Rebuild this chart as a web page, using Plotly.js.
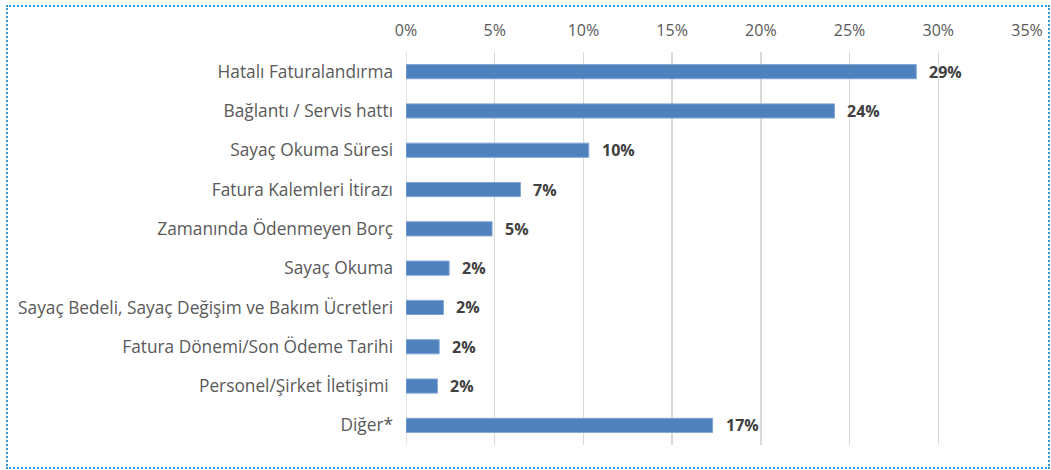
<!DOCTYPE html>
<html>
<head>
<meta charset="utf-8">
<script src="https://cdn.plot.ly/plotly-3.0.1.min.js"></script>
<style>
  html, body { margin: 0; padding: 0; background: #fff; }
  #wrap { position: relative; width: 1051px; height: 470px; }
  #frame { position: absolute; left: 6px; top: 5px; width: 1040px; height: 460px;
           border: 2px dotted #2E9BD6; }
  #chart { position: absolute; left: 0; top: 0; width: 1051px; height: 470px; }
</style>
</head>
<body>
<div id="wrap">
  <div id="frame"></div>
  <div id="chart"></div>
</div>
<script>
const categories = [
  "Hatalı Faturalandırma",
  "Bağlantı / Servis hattı",
  "Sayaç Okuma Süresi",
  "Fatura Kalemleri İtirazı",
  "Zamanında Ödenmeyen Borç",
  "Sayaç Okuma",
  "Sayaç Bedeli, Sayaç Değişim ve Bakım Ücretleri",
  "Fatura Dönemi/Son Ödeme Tarihi",
  "Personel/Şirket İletişimi ",
  "Diğer*"
];
const values = [0.2876, 0.2415, 0.103, 0.0645, 0.0485, 0.0243, 0.0211, 0.0187, 0.0177, 0.1728];
const valueLabels = ["29%", "24%", "10%", "7%", "5%", "2%", "2%", "2%", "2%", "17%"];
const tickVals = [0, 0.05, 0.10, 0.15, 0.20, 0.25, 0.30, 0.35];
const tickText = ["0%", "5%", "10%", "15%", "20%", "25%", "30%", "35%"];

const FONT = "'Open Sans', 'Noto Sans', sans-serif";

const trace = {
  type: "bar",
  orientation: "h",
  y: categories,
  x: values,
  marker: { color: "#4F81BD", line: { color: "#7FA6D6", width: 1 } },
  hoverinfo: "none"
};

const annotations = categories.map((c, i) => ({
  x: values[i], y: c, xref: "x", yref: "y",
  text: "<b>" + valueLabels[i] + "</b>",
  showarrow: false, xanchor: "left", yanchor: "middle", xshift: 11,
  font: { family: FONT, size: 16, color: "#404040" }
}));

const layout = {
  width: 1051, height: 470,
  margin: { l: 406, r: 24, t: 52, b: 25, pad: 0 },
  paper_bgcolor: "rgba(0,0,0,0)",
  plot_bgcolor: "rgba(0,0,0,0)",
  showlegend: false,
  bargap: 0.64,
  xaxis: {
    side: "top", range: [0, 0.35],
    tickvals: tickVals, ticktext: tickText,
    showgrid: true, gridcolor: "#D9D9D9", gridwidth: 1.5,
    zeroline: false, showline: false, ticks: "",
    ticklabelstandoff: 12,
    tickfont: { family: FONT, size: 16, color: "#595959" },
    fixedrange: true
  },
  yaxis: {
    autorange: "reversed", type: "category",
    showgrid: false, zeroline: false, showline: false, ticks: "",
    ticklabelstandoff: 12,
    tickfont: { family: FONT, size: 17.3, color: "#595959" },
    fixedrange: true
  },
  shapes: [{
    type: "line", xref: "x", yref: "paper", x0: 0, x1: 0, y0: 0, y1: 1,
    line: { color: "#D9D9D9", width: 1.5 }, layer: "below"
  }],
  annotations: annotations
};

Plotly.newPlot("chart", [trace], layout, { displayModeBar: false, staticPlot: true });
</script>
</body>
</html>
